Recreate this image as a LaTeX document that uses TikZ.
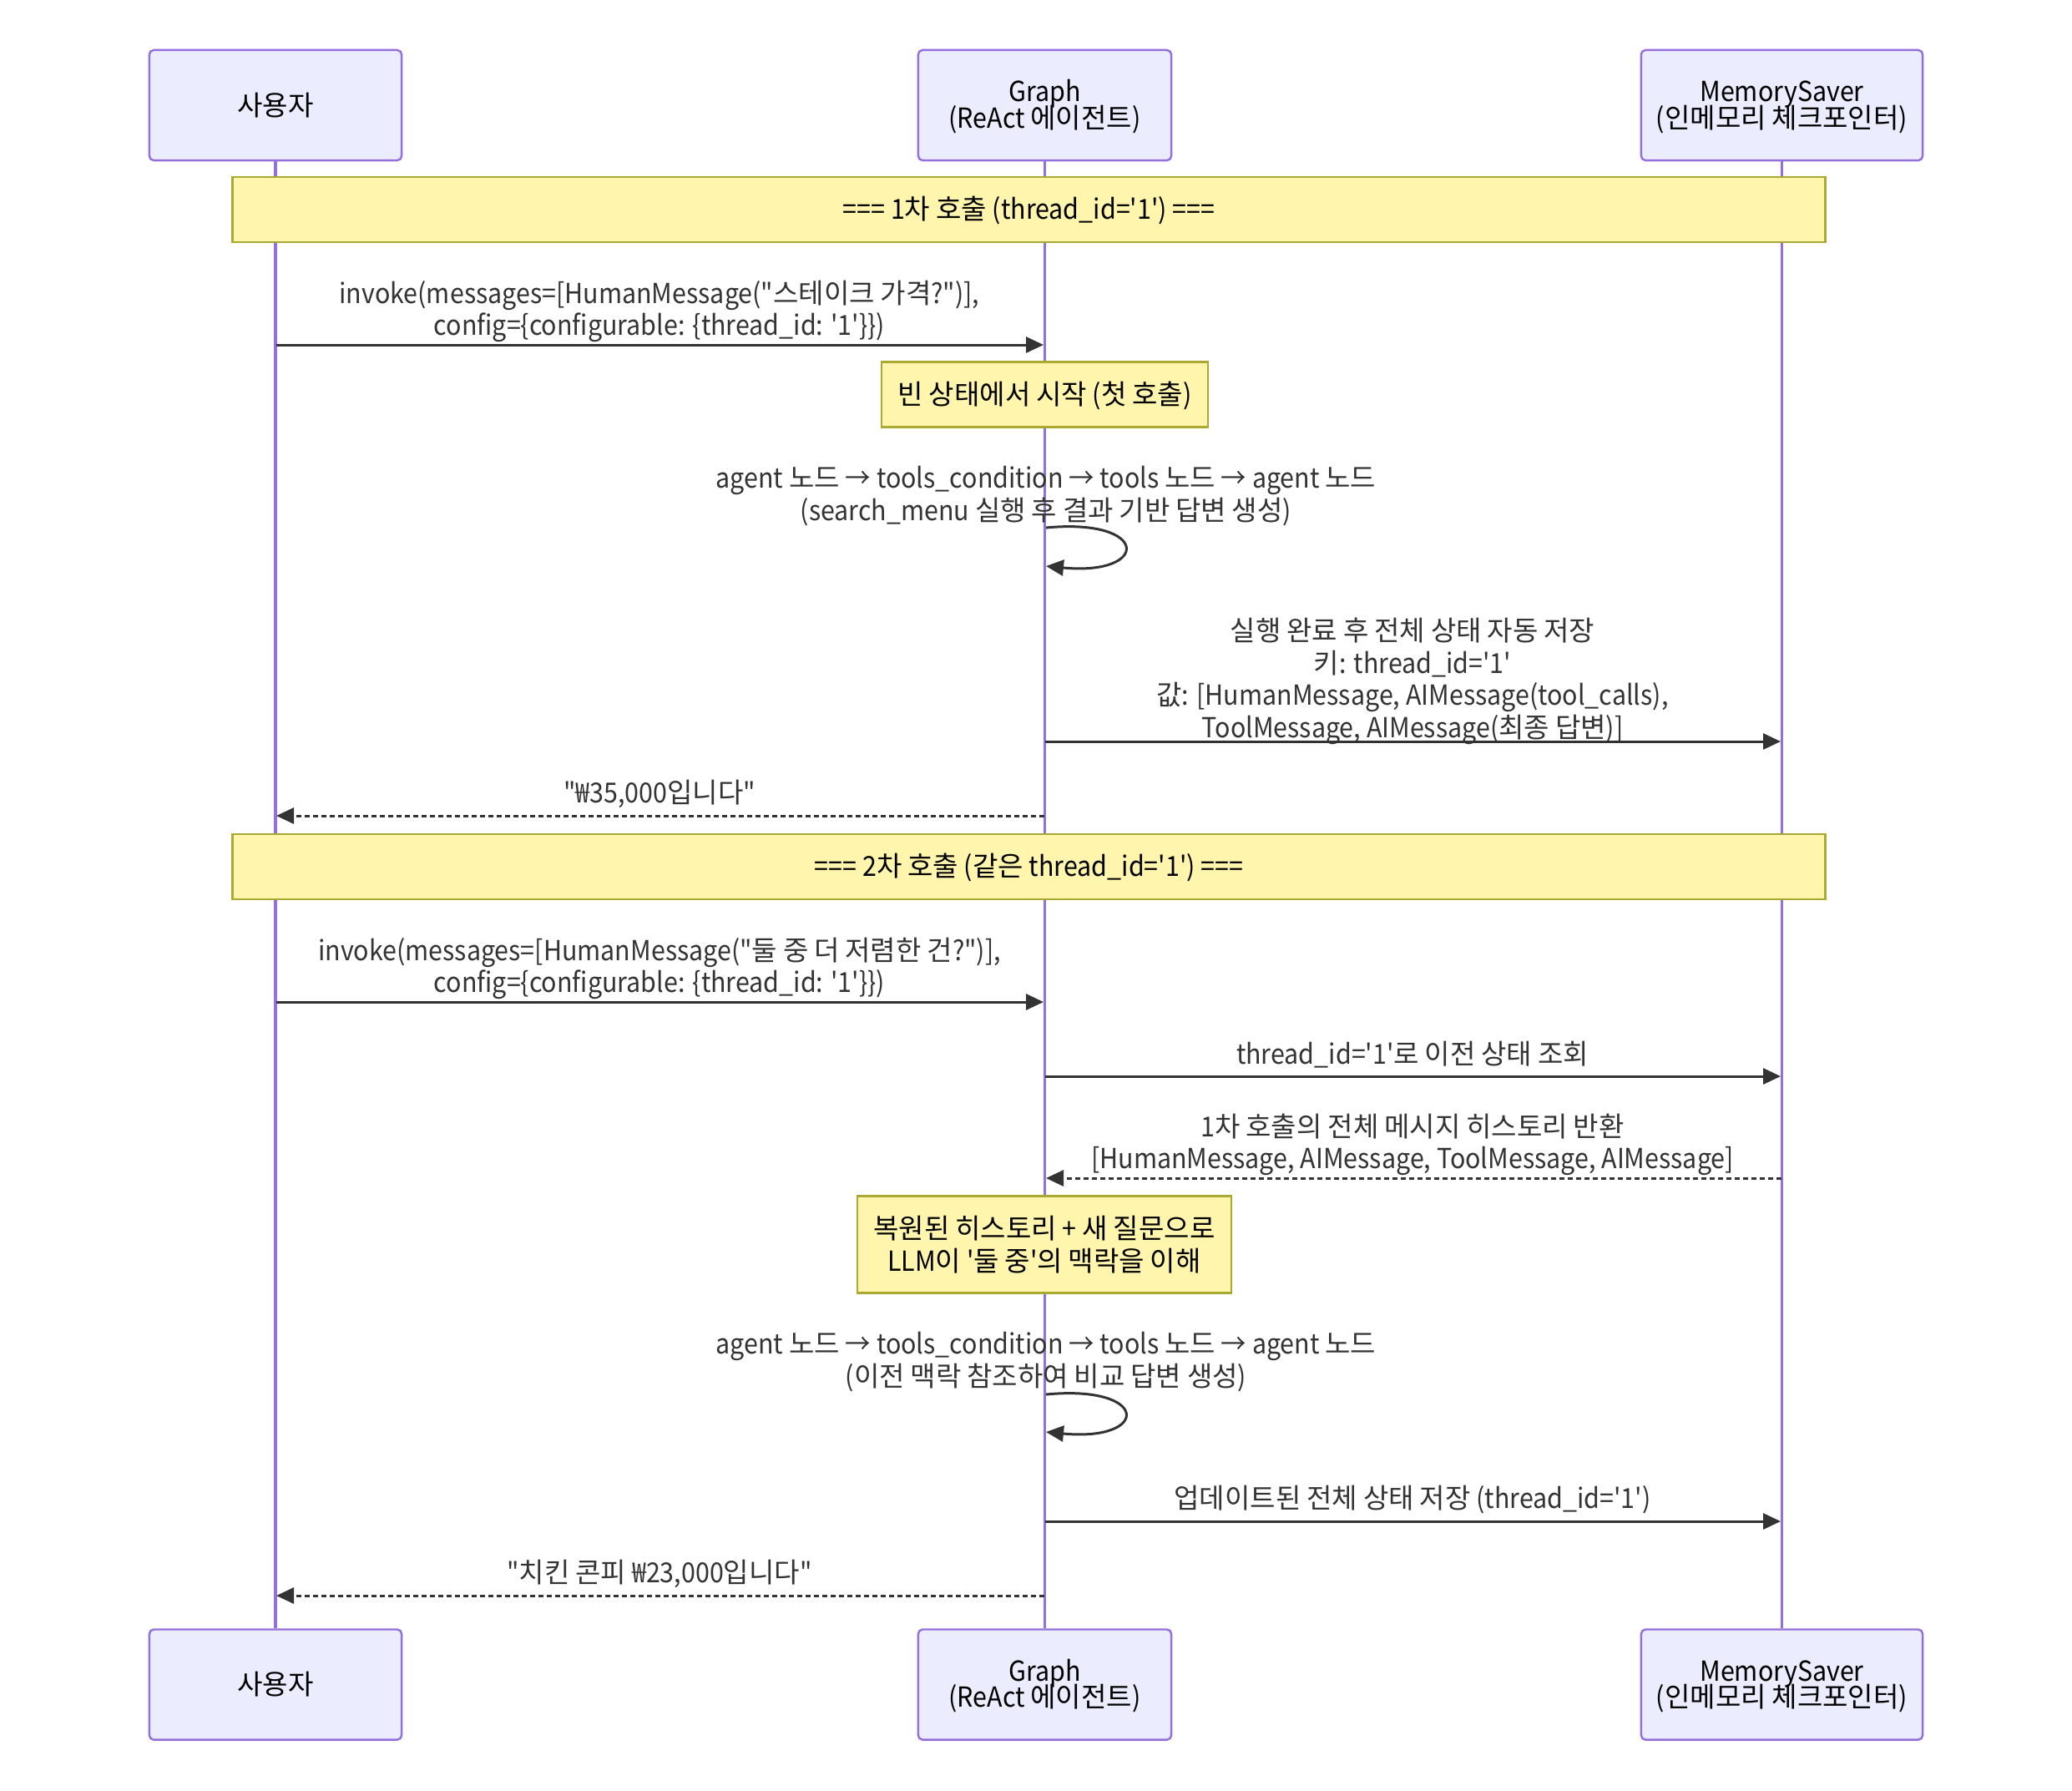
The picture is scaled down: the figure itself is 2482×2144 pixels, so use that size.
\documentclass[tikz,border=0pt]{standalone}
\usepackage{fontspec}
\newfontfamily\krfont{Noto Sans CJK KR}
\newfontfamily\latfont{Noto Sans CJK KR}[FakeStretch=0.92]
\XeTeXinterchartokenstate=1
\newXeTeXintercharclass\krclass
\newcount\hgcnt
\hgcnt="AC00
\loop
  \XeTeXcharclass\hgcnt=\krclass
  \ifnum\hgcnt<"D7A3 \advance\hgcnt by 1
\repeat
\XeTeXinterchartoks 0 \krclass = {\krfont}
\XeTeXinterchartoks 4095 \krclass = {\krfont}
\XeTeXinterchartoks \krclass 0 = {\latfont}
\XeTeXinterchartoks \krclass 4095 = {\latfont}
\newcommand\tightls{\lineskiplimit=-20pt\relax}
\usetikzlibrary{arrows.meta,calc}
\definecolor{actfill}{HTML}{ECECFF}
\definecolor{actline}{HTML}{9370DB}
\definecolor{notefill}{HTML}{FFF5AD}
\definecolor{noteline}{HTML}{AAAA33}
\definecolor{msgcol}{HTML}{333333}
\tikzset{
  txt/.style={font=\fontsize{9.4}{10.95}\selectfont\latfont, align=center, inner sep=0pt},
  actor/.style={txt, font=\fontsize{9.4}{9.0}\selectfont\latfont\tightls, draw=actline, fill=actfill, line width=0.7pt, rounded corners=1.5pt, text=black},
  twoline/.style={text height=16.5pt, text depth=0.9pt},
  oneline/.style={text height=7.5pt, text depth=0.9pt},
  notebox/.style={txt, draw=noteline, fill=notefill, line width=0.7pt, text=black},
  life/.style={draw=actline, line width=1pt},
  msg/.style={draw=msgcol, line width=0.85pt, -{Triangle[length=0.21cm,width=0.19cm]}},
  reply/.style={msg, dash pattern=on 0.06cm off 0.04cm},
  lbl/.style={txt, text=msgcol, yshift=-0.04cm},
}
\begin{document}
\begin{tikzpicture}[x=0.01cm,y=-0.01cm]
\useasboundingbox (0,0) rectangle (2482,2144);
% actors top
\node[actor, minimum width=3.02cm, minimum height=1.32cm] (uT) at (330,126) {사용자};
\node[actor, twoline, minimum width=3.03cm, minimum height=1.32cm] (gT) at (1251.5,126) {Graph\\(ReAct 에이전트)};
\node[actor, twoline, minimum width=3.37cm, minimum height=1.32cm] (mT) at (2134.5,126) {MemorySaver\\(인메모리 체크포인터)};
% actors bottom
\node[actor, minimum width=3.02cm, minimum height=1.32cm] (uB) at (330,2017.5) {사용자};
\node[actor, twoline, minimum width=3.03cm, minimum height=1.32cm] (gB) at (1251.5,2017.5) {Graph\\(ReAct 에이전트)};
\node[actor, twoline, minimum width=3.37cm, minimum height=1.32cm] (mB) at (2134.5,2017.5) {MemorySaver\\(인메모리 체크포인터)};
% lifelines
\draw[life] (uT.south) -- (uB.north);
\draw[life] (gT.south) -- (gB.north);
\draw[life] (mT.south) -- (mB.north);
% section notes
\node[notebox, oneline, minimum width=19.07cm, minimum height=0.78cm] (n1) at (1232.5,251) {=== 1차 호출 (thread\_id='1') ===};
\node[notebox, oneline, minimum width=19.07cm, minimum height=0.78cm] (n2) at (1232.5,1038) {=== 2차 호출 (같은 thread\_id='1') ===};
\node[notebox, oneline, minimum width=3.91cm, minimum height=0.78cm] (n3) at (1251.5,472.5) {빈 상태에서 시작 (첫 호출)};
\node[notebox, minimum width=4.48cm, minimum height=1.16cm] (n4) at (1251,1490.5) {복원된 히스토리 + 새 질문으로\\LLM이 '둘 중'의 맥락을 이해};
% message endpoints
\coordinate (u1) at (331,413);  \coordinate (g1) at (1250,413);
\coordinate (g2a) at (1253,632); \coordinate (g2b) at (1253,678);
\coordinate (g3) at (1252,888); \coordinate (m3) at (2133,888);
\coordinate (g4) at (1251,977); \coordinate (u4) at (331,977);
\coordinate (u5) at (331,1200); \coordinate (g5) at (1250,1200);
\coordinate (g6) at (1252,1289); \coordinate (m6) at (2133,1289);
\coordinate (m7) at (2134,1411); \coordinate (g7) at (1253,1411);
\coordinate (g8a) at (1253,1670); \coordinate (g8b) at (1253,1715);
\coordinate (g9) at (1252,1822); \coordinate (m9) at (2133,1822);
\coordinate (g10) at (1251,1911); \coordinate (u10) at (331,1911);
% messages
\node[lbl] (l1) at (790,369) {invoke(messages=[HumanMessage("스테이크 가격?")],\\config=\{configurable: \{thread\_id: '1'\}\})};
\draw[msg] (u1) -- (g1);
\node[lbl] (l2) at (1253,590) {agent 노드 → tools\_condition → tools 노드 → agent 노드\\(search\_menu 실행 후 결과 기반 답변 생성)};
\draw[msg] (g2a) .. controls ($(g2a)+(125,-12)$) and ($(g2b)+(125,12)$) .. (g2b);
\node[lbl] (l3) at (1692,812) {실행 완료 후 전체 상태 자동 저장\\키: thread\_id='1'\\값: [HumanMessage, AIMessage(tool\_calls),\\ToolMessage, AIMessage(최종 답변)]};
\draw[msg] (g3) -- (m3);
\node[lbl] (l4) at (790,947) {"₩35,000입니다"};
\draw[reply] (g4) -- (u4);
\node[lbl] (l5) at (790,1156) {invoke(messages=[HumanMessage("둘 중 더 저렴한 건?")],\\config=\{configurable: \{thread\_id: '1'\}\})};
\draw[msg] (u5) -- (g5);
\node[lbl] (l6) at (1692,1259) {thread\_id='1'로 이전 상태 조회};
\draw[msg] (g6) -- (m6);
\node[lbl] (l7) at (1692,1367) {1차 호출의 전체 메시지 히스토리 반환\\{}[HumanMessage, AIMessage, ToolMessage, AIMessage]};
\draw[reply] (m7) -- (g7);
\node[lbl] (l8) at (1253,1627) {agent 노드 → tools\_condition → tools 노드 → agent 노드\\(이전 맥락 참조하여 비교 답변 생성)};
\draw[msg] (g8a) .. controls ($(g8a)+(125,-12)$) and ($(g8b)+(125,12)$) .. (g8b);
\node[lbl] (l9) at (1692,1792) {업데이트된 전체 상태 저장 (thread\_id='1')};
\draw[msg] (g9) -- (m9);
\node[lbl] (l10) at (790,1881) {"치킨 콘피 ₩23,000입니다"};
\draw[reply] (g10) -- (u10);
\end{tikzpicture}
\end{document}
